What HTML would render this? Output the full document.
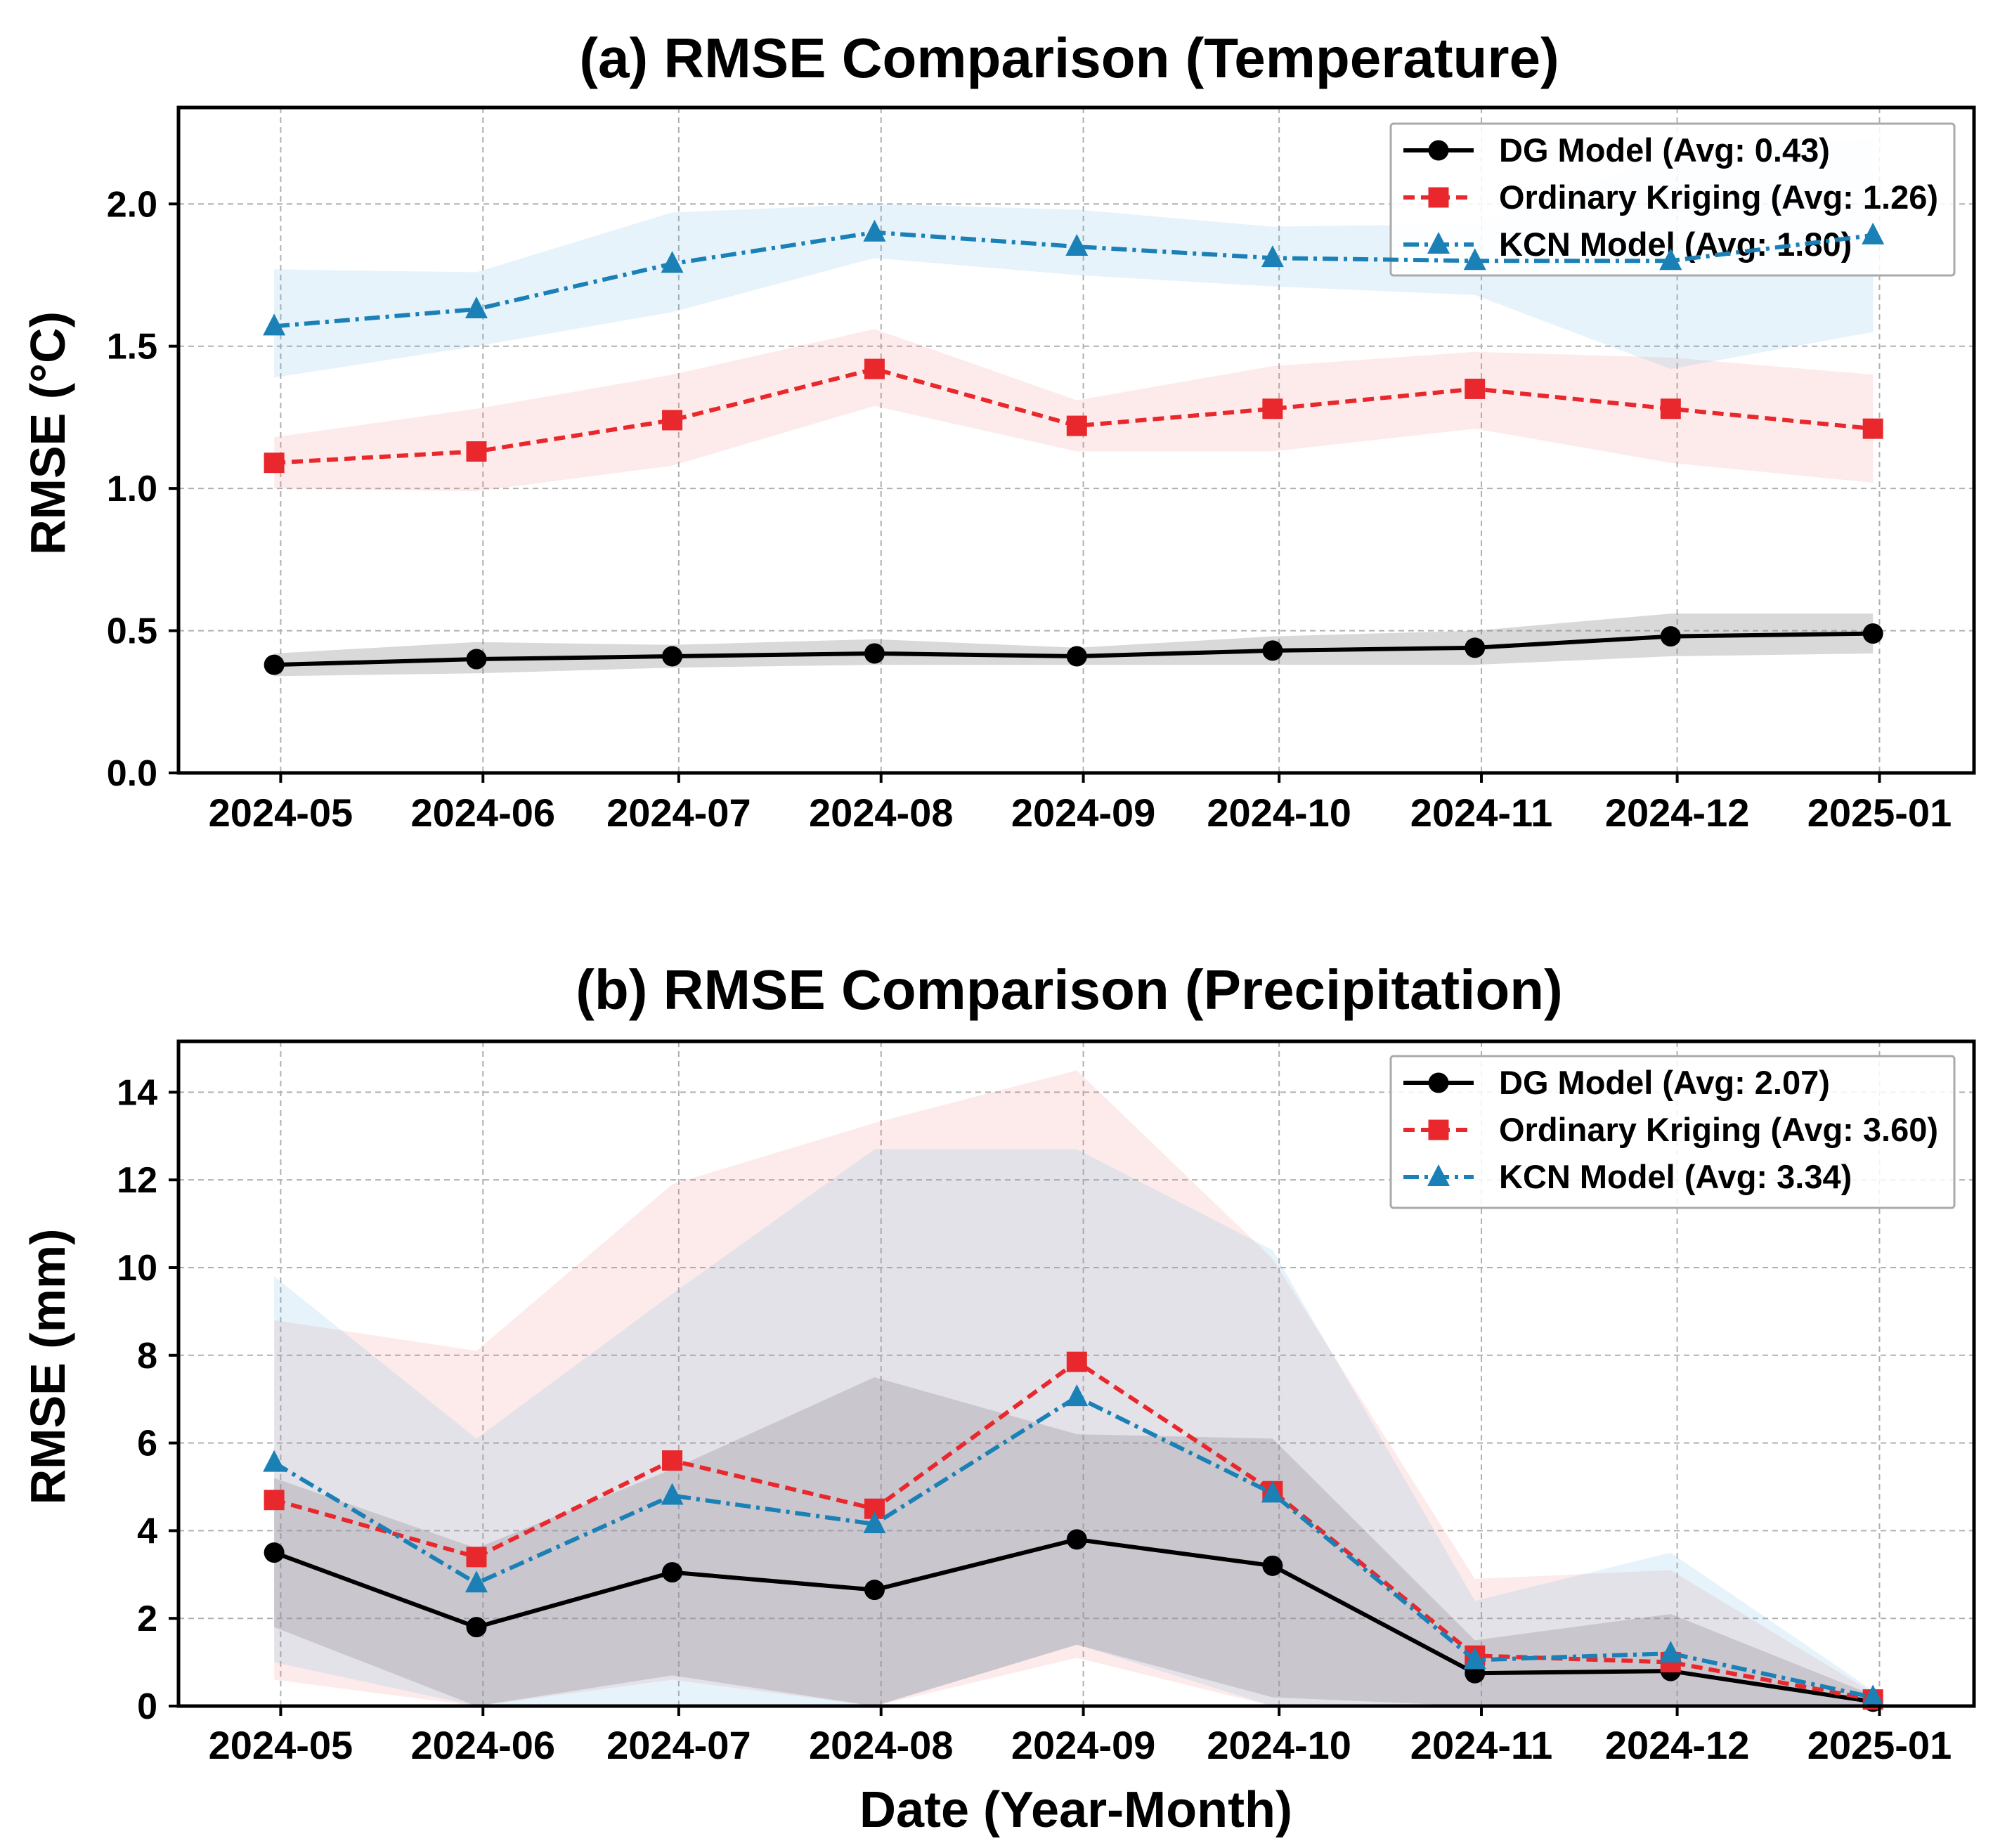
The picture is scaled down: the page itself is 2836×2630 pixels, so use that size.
<!DOCTYPE html>
<html><head><meta charset="utf-8"><style>
html,body{margin:0;padding:0;background:#fff;}
svg{display:block;font-family:"Liberation Sans",sans-serif;}
</style></head><body>
<svg id="chart" width="2836" height="2630" viewBox="0 0 2836 2630" xmlns="http://www.w3.org/2000/svg"></svg>
<script>
// shared x categories (month tick labels)
const tickLabels = ["2024-05","2024-06","2024-07","2024-08","2024-09","2024-10","2024-11","2024-12","2025-01"];
const tickDays = [0,31,61,92,123,153,184,214,245];
const pointDays = [-1,30,60,91,122,152,183,213,244];

// Panel a: temperature
const tDG = [0.38,0.40,0.41,0.42,0.41,0.43,0.44,0.48,0.49];
const tDGlo = [0.34,0.35,0.37,0.38,0.38,0.38,0.38,0.41,0.42];
const tDGhi = [0.42,0.46,0.45,0.47,0.44,0.48,0.50,0.56,0.56];
const tOK = [1.09,1.13,1.24,1.42,1.22,1.28,1.35,1.28,1.21];
const tOKlo = [1.00,0.99,1.08,1.29,1.13,1.13,1.21,1.09,1.02];
const tOKhi = [1.18,1.28,1.40,1.56,1.31,1.43,1.48,1.46,1.40];
const tKCN = [1.57,1.63,1.79,1.90,1.85,1.81,1.80,1.80,1.89];
const tKCNlo = [1.39,1.50,1.62,1.81,1.75,1.71,1.68,1.42,1.55];
const tKCNhi = [1.77,1.76,1.97,2.00,1.98,1.92,1.93,2.17,2.23];
const tYTicks = [0.0,0.5,1.0,1.5,2.0];
const tLegend = ["DG Model (Avg: 0.43)","Ordinary Kriging (Avg: 1.26)","KCN Model (Avg: 1.80)"];

// Panel b: precipitation
const pDG = [3.5,1.8,3.05,2.65,3.8,3.2,0.75,0.8,0.1];
const pDGlo = [1.8,0,0.7,0,1.4,0.2,0,0,0];
const pDGhi = [5.2,3.6,5.4,7.5,6.2,6.1,1.5,2.1,0.25];
const pOK = [4.7,3.4,5.6,4.5,7.85,4.9,1.15,1.0,0.15];
const pOKlo = [0.6,0,0.6,0,1.1,0,0,0,0];
const pOKhi = [8.8,8.1,11.9,13.3,14.5,10.2,2.9,3.1,0.3];
const pKCN = [5.55,2.8,4.8,4.15,7.05,4.85,1.05,1.2,0.2];
const pKCNlo = [1.0,0,0,0,1.4,0,0,0,0];
const pKCNhi = [9.8,6.1,9.4,12.7,12.7,10.4,2.4,3.5,0.35];
const pYTicks = [0,2,4,6,8,10,12,14];
const pLegend = ["DG Model (Avg: 2.07)","Ordinary Kriging (Avg: 3.60)","KCN Model (Avg: 3.34)"];

const NS="http://www.w3.org/2000/svg";
const svg=document.getElementById('chart');
function mk(tag,attrs,parent){const e=document.createElementNS(NS,tag);for(const k in attrs)e.setAttribute(k,attrs[k]);(parent||svg).appendChild(e);return e;}

const L=254,R=2809;
const xOf=d=>399.4+d*9.286;

const C={dg:"#000000",ok:"#e8282c",kcn:"#1a80b6"};

function panel(cfg){
  const g=mk('g',{});
  
  
  const T=cfg.top,B=cfg.bottom;
  const yOf=v=>B-(v/cfg.ymax)*(B-T);
  const t=mk('text',{x:(L+R)/2-10,y:cfg.titleY,'text-anchor':'middle','font-size':80,'font-weight':'bold',fill:'#000'},g);
  t.textContent=cfg.title;
  
  
  tickDays.forEach((d,i)=>{
    const l=mk('line',{x1:xOf(d),x2:xOf(d),y1:T,y2:B,stroke:'#b0b0b0','stroke-width':2,'stroke-dasharray':'8,6'},g);
    
    
  });
  cfg.yticks.forEach(v=>{
    const l=mk('line',{x1:L,x2:R,y1:yOf(v),y2:yOf(v),stroke:'#b0b0b0','stroke-width':2,'stroke-dasharray':'8,6'},g);
    
    
  });
  const series=[
    {key:'dg',lo:cfg.dglo,hi:cfg.dghi,v:cfg.dg,fill:'#808080',op:0.3,dash:'',marker:'circle'},
    {key:'ok',lo:cfg.oklo,hi:cfg.okhi,v:cfg.ok,fill:'#f08080',op:0.16,dash:'16,9',marker:'square'},
    {key:'kcn',lo:cfg.kcnlo,hi:cfg.kcnhi,v:cfg.kcn,fill:'#5aaee0',op:0.15,dash:'22,8,5,8',marker:'triangle'}
  ];
  series.forEach(s=>{
    let pts=pointDays.map((d,i)=>xOf(d)+','+yOf(s.hi[i]));
    for(let i=pointDays.length-1;i>=0;i--)pts.push(xOf(pointDays[i])+','+yOf(s.lo[i]));
    const p=mk('polygon',{points:pts.join(' '),fill:s.fill,'fill-opacity':s.op},g);
    
    
  });
  const lg=mk('g',{},g);
  
  
  const lt=cfg.legTop;
  mk('rect',{x:1979,y:lt,width:802,height:216,fill:'#fff','fill-opacity':0.85,stroke:'#aaa','stroke-width':3,rx:4},lg);
  series.forEach((s,i)=>{
    const y=lt+38+i*67;
    const ln=mk('line',{x1:1997,x2:2097,y1:y,y2:y,stroke:C[s.key],'stroke-width':6,'stroke-dasharray':s.dash},lg);
    
    
    drawMarker(lg,s.marker,2047,y,C[s.key]);
    const tx=mk('text',{x:2133,y:y+16,'font-size':47,'font-weight':'bold',fill:'#000'},lg);
    tx.textContent=cfg.legend[i];
    
    
  });
  series.forEach(s=>{
    const d=pointDays.map((dd,i)=>(i?'L':'M')+xOf(dd)+' '+yOf(s.v[i])).join(' ');
    const p=mk('path',{d:d,fill:'none',stroke:C[s.key],'stroke-width':6,'stroke-dasharray':s.dash},g);
    
    
    pointDays.forEach((dd,i)=>{
      const m=drawMarker(g,s.marker,xOf(dd),yOf(s.v[i]),C[s.key]);
      
      
    });
  });
  const fr=mk('rect',{x:L,y:T,width:R-L,height:B-T,fill:'none',stroke:'#000','stroke-width':5},g);
  
  
  tickDays.forEach((d,i)=>{
    mk('line',{x1:xOf(d),x2:xOf(d),y1:B,y2:B+14,stroke:'#000','stroke-width':4},g);
    const tx=mk('text',{x:xOf(d),y:cfg.xTickY,'text-anchor':'middle','font-size':56,'font-weight':'bold',fill:'#000'},g);
    tx.textContent=tickLabels[i];
    
    
  });
  cfg.yticks.forEach(v=>{
    mk('line',{x1:L-14,x2:L,y1:yOf(v),y2:yOf(v),stroke:'#000','stroke-width':4},g);
    const tx=mk('text',{x:224,y:yOf(v)+18,'text-anchor':'end','font-size':52,'font-weight':'bold',fill:'#000'},g);
    tx.textContent=cfg.fmt(v);
    
    
  });
  const yl=mk('text',{x:0,y:0,transform:`translate(92 ${(T+B)/2-10}) rotate(-90)`,'text-anchor':'middle','font-size':70,'font-weight':'bold',fill:'#000'},g);
  yl.textContent=cfg.ylabel;
  
  
}
function drawMarker(parent,type,x,y,col){
  if(type==='circle')return mk('circle',{cx:x,cy:y,r:14.5,fill:col},parent);
  if(type==='square')return mk('rect',{x:x-14.5,y:y-14.5,width:29,height:29,fill:col},parent);
  return mk('polygon',{points:`${x},${y-18} ${x-16},${y+13} ${x+16},${y+13}`,fill:col},parent);
}

panel({name:'temperature-panel',title:'(a) RMSE Comparison (Temperature)',titleY:110,top:153,bottom:1100,ymax:2.339,
  yticks:tYTicks,fmt:v=>v.toFixed(1),ylabel:'RMSE (°C)',xTickY:1176,legTop:176,legend:tLegend,
  dg:tDG,dglo:tDGlo,dghi:tDGhi,ok:tOK,oklo:tOKlo,okhi:tOKhi,kcn:tKCN,kcnlo:tKCNlo,kcnhi:tKCNhi});
panel({name:'precipitation-panel',title:'(b) RMSE Comparison (Precipitation)',titleY:1436,top:1482,bottom:2428,ymax:15.16,
  yticks:pYTicks,fmt:v=>String(v),ylabel:'RMSE (mm)',xTickY:2503,legTop:1503,legend:pLegend,
  dg:pDG,dglo:pDGlo,dghi:pDGhi,ok:pOK,oklo:pOKlo,okhi:pOKhi,kcn:pKCN,kcnlo:pKCNlo,kcnhi:pKCNhi});

const xl=mk('text',{x:1531,y:2600,'text-anchor':'middle','font-size':72,'font-weight':'bold',fill:'#000'});
xl.textContent='Date (Year-Month)';


</script>
</body></html>
